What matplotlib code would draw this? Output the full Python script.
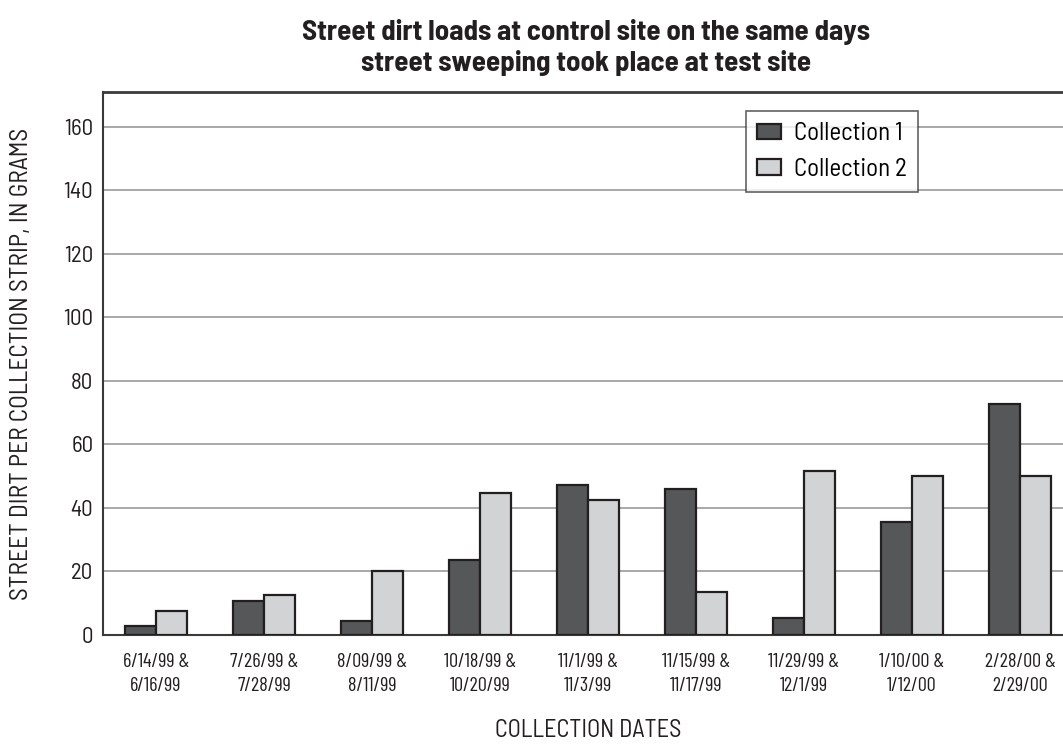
import matplotlib
matplotlib.use("Agg")
import matplotlib.pyplot as plt
import numpy as np

plt.rcParams['font.family'] = ['Barlow Semi Condensed', 'Liberation Sans', 'DejaVu Sans']

# === Data ===
dates = ["6/14/99 &\n6/16/99", "7/26/99 &\n7/28/99", "8/09/99 &\n8/11/99",
         "10/18/99 &\n10/20/99", "11/1/99 &\n11/3/99", "11/15/99 &\n11/17/99",
         "11/29/99 &\n12/1/99", "1/10/00 &\n1/12/00", "2/28/00 &\n2/29/00"]
collection1 = [2.9, 10.6, 4.4, 23.6, 47.3, 46.0, 5.4, 35.7, 72.8]
collection2 = [7.7, 12.6, 20.2, 44.6, 42.5, 13.6, 51.5, 50.2, 50.2]
yticks = [0, 20, 40, 60, 80, 100, 120, 140, 160]

dark = "#555759"
light = "#d1d3d4"
edge = "#231f20"
txtc = "#231f20"

fig = plt.figure(figsize=(10.63, 7.44), dpi=100)
ax = fig.add_axes([0.0969, 0.1465, 0.9125, 0.7298])

x = np.arange(len(dates))
w = 0.2875
ax.bar(x - w/2, collection1, w, color=dark, edgecolor=edge, linewidth=1.6,
       label="Collection 1", zorder=3)
ax.bar(x + w/2, collection2, w, color=light, edgecolor=edge, linewidth=1.6,
       label="Collection 2", zorder=3)

ax.set_xlim(-0.49, len(dates) - 0.51)
ax.set_ylim(0, 171)
ax.set_yticks(yticks)
ax.set_yticklabels([str(v) for v in yticks], fontsize=16.5, color=txtc)
ax.set_xticks(x)
ax.set_xticklabels(dates, fontsize=14.5, color=txtc, linespacing=1.45,
                   family=['Barlow Condensed', 'Liberation Sans', 'DejaVu Sans'])
ax.tick_params(axis="both", length=0)
ax.tick_params(axis="y", pad=7)
ax.tick_params(axis="x", pad=13)

ax.yaxis.grid(True, color="#9a9a9a", linewidth=1.2, zorder=0)
ax.set_axisbelow(True)

for s in ["left", "top", "bottom"]:
    ax.spines[s].set_color("#3a3a3a")
    ax.spines[s].set_linewidth(1.5)
ax.spines["right"].set_visible(False)
ax.spines["top"].set_linewidth(2)

ax.set_ylabel("STREET DIRT PER COLLECTION STRIP, IN GRAMS", fontsize=18.3,
              color=txtc, labelpad=22)
ax.set_xlabel("COLLECTION DATES", fontsize=17.5, color=txtc, labelpad=17)

fig.text(0.551, 0.974, "Street dirt loads at control site on the same days\n"
         "street sweeping took place at test site", ha="center", va="top",
         fontsize=20.9, fontweight="bold", color=txtc, linespacing=1.2)

leg = ax.legend(loc="upper left", bbox_to_anchor=(0.663, 0.965), fontsize=18,
                frameon=True, fancybox=False, edgecolor="#3a3a3a",
                borderaxespad=0, handlelength=0.95, handleheight=0.6,
                borderpad=0.45, labelspacing=0.5, handletextpad=0.5)
leg.get_frame().set_linewidth(1.2)

fig.savefig("out.png", dpi=100)
